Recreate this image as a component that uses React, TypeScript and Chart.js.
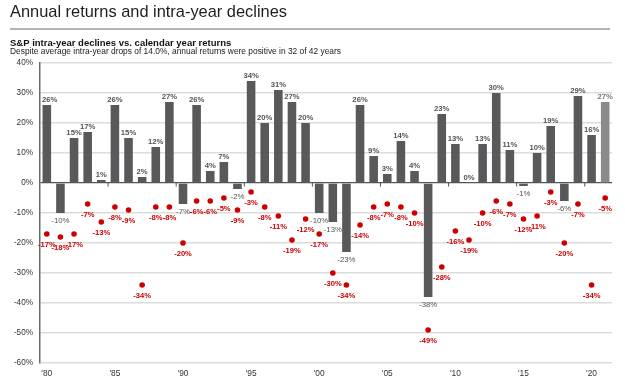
import { useEffect, useRef } from "react";
import { Chart, registerables } from "chart.js";

Chart.register(...registerables);

const years = [
  "1980", "1981", "1982", "1983", "1984", "1985", "1986", "1987", "1988", "1989",
  "1990", "1991", "1992", "1993", "1994", "1995", "1996", "1997", "1998", "1999",
  "2000", "2001", "2002", "2003", "2004", "2005", "2006", "2007", "2008", "2009",
  "2010", "2011", "2012", "2013", "2014", "2015", "2016", "2017", "2018", "2019",
  "2020", "2021",
];

const annualReturns = [
  26, -10, 15, 17, 1, 26, 15, 2, 12, 27,
  -7, 26, 4, 7, -2, 34, 20, 31, 27, 20,
  -10, -13, -23, 26, 9, 3, 14, 4, -38, 23,
  13, 0, 13, 30, 11, -1, 10, 19, -6, 29,
  16, 27,
];

const intraYearDeclines = [
  -17, -18, -17, -7, -13, -8, -9, -34, -8, -8,
  -20, -6, -6, -5, -9, -3, -8, -11, -19, -12,
  -17, -30, -34, -14, -8, -7, -8, -10, -49, -28,
  -16, -19, -10, -6, -7, -12, -11, -3, -20, -7,
  -34, -5,
];

const yMin = -60;
const yMax = 40;
const yStep = 10;

const titleText = "Annual returns and intra-year declines";
const subtitleText = "S&P intra-year declines vs. calendar year returns";
const noteText =
  "Despite average intra-year drops of 14.0%, annual returns were positive in 32 of 42 years";

const FONT = '"Liberation Sans", Arial, Helvetica, sans-serif';
const BAR = "#58595b";
const BAR_LAST = "#8a8a8a";
const RED = "#cc0000";

const overlay = {
  id: "overlay",
  beforeDraw(chart: any) {
    const ctx = chart.ctx;
    ctx.save();
    ctx.textAlign = "left";
    ctx.textBaseline = "alphabetic";
    ctx.fillStyle = "#1e1e1e";
    ctx.font = `16.4px ${FONT}`;
    ctx.fillText(titleText, 10, 16.8);
    ctx.strokeStyle = "#b4b4b4";
    ctx.lineWidth = 2;
    ctx.beginPath();
    ctx.moveTo(10, 29);
    ctx.lineTo(610, 29);
    ctx.stroke();
    ctx.fillStyle = "#111";
    ctx.font = `bold 9.5px ${FONT}`;
    ctx.fillText(subtitleText, 10, 45.5);
    ctx.fillStyle = "#222";
    ctx.font = `8.4px ${FONT}`;
    ctx.fillText(noteText, 10, 54);
    ctx.restore();
  },
  afterDatasetsDraw(chart: any) {
    const ctx = chart.ctx;
    const area = chart.chartArea;
    const xs = chart.scales.x;
    const ys = chart.scales.y;
    const y0 = ys.getPixelForValue(0);
    ctx.save();
    ctx.strokeStyle = "#555";
    ctx.lineWidth = 1;
    for (let i = 5; i < years.length; i += 5) {
      const px = (xs.getPixelForValue(i - 1) + xs.getPixelForValue(i)) / 2;
      ctx.beginPath();
      ctx.moveTo(px, y0);
      ctx.lineTo(px, y0 + 3.5);
      ctx.stroke();
    }
    const barMeta = chart.getDatasetMeta(0);
    ctx.textAlign = "center";
    barMeta.data.forEach((el: any, i: number) => {
      const v = annualReturns[i];
      const text = `${v}%`;
      const last = i === annualReturns.length - 1;
      if (v >= 0) {
        ctx.font = `bold 7.7px ${FONT}`;
        ctx.fillStyle = last ? "#7a7a7a" : "#555";
        ctx.textBaseline = "bottom";
        const w = ctx.measureText(text).width;
        const x = Math.max(el.x, area.left + w / 2 + 2);
        ctx.fillText(text, x, el.y - 1.5);
      } else {
        ctx.font = `7.8px ${FONT}`;
        ctx.fillStyle = "#555";
        ctx.textBaseline = "top";
        ctx.fillText(text, el.x, el.y + 4);
      }
    });
    const ptMeta = chart.getDatasetMeta(1);
    ctx.font = `bold 7.6px ${FONT}`;
    ctx.fillStyle = RED;
    ctx.textBaseline = "top";
    ptMeta.data.forEach((el: any, i: number) => {
      const text = `${intraYearDeclines[i]}%`;
      ctx.fillText(text, el.x, el.y + 7.5);
    });
    ctx.restore();
  },
};

export default function App() {
  const ref = useRef<HTMLCanvasElement>(null);

  useEffect(() => {
    document.body.style.margin = "0";
    const canvas = ref.current;
    if (!canvas) return;
    const chart = new Chart(canvas, {
      type: "bar",
      data: {
        labels: years,
        datasets: [
          {
            type: "bar",
            data: annualReturns,
            backgroundColor: annualReturns.map((_, i) =>
              i === annualReturns.length - 1 ? BAR_LAST : BAR
            ),
            borderWidth: 0,
            barPercentage: 0.63,
            categoryPercentage: 1,
            order: 2,
          } as any,
          {
            type: "line",
            data: intraYearDeclines,
            showLine: false,
            pointRadius: 2.8,
            pointBackgroundColor: RED,
            pointBorderWidth: 0,
            pointHoverRadius: 2.8,
            order: 1,
          } as any,
        ],
      },
      options: {
        responsive: false,
        animation: false,
        devicePixelRatio: 1,
        layout: { padding: { top: 63, right: 13, bottom: 0, left: 0 } },
        plugins: {
          legend: { display: false },
          tooltip: { enabled: false },
          title: { display: false },
        },
        scales: {
          x: {
            offset: true,
            grid: { display: false, drawTicks: false },
            border: { display: false },
            ticks: {
              autoSkip: false,
              maxRotation: 0,
              padding: 6,
              color: "#333",
              font: { family: FONT, size: 8.4 },
              callback: (_v: any, i: number) => {
                const y = Number(years[i]);
                return y % 5 === 0 ? `'${years[i].slice(2)}` : "";
              },
            },
            afterFit: (scale: any) => {
              scale.height = 19;
            },
          },
          y: {
            min: yMin,
            max: yMax,
            ticks: {
              stepSize: yStep,
              padding: 7,
              color: "#333",
              font: { family: FONT, size: 8.2 },
              callback: (v: any) => `${v}%`,
            },
            grid: {
              drawTicks: false,
              color: (c: any) => (c.tick && c.tick.value === 0 ? "#555" : "#dcdcdc"),
              lineWidth: (c: any) => (c.tick && c.tick.value === 0 ? 1.3 : 1.5),
            },
            border: { display: true, color: "#6a6a6a", width: 1.5 },
            afterFit: (scale: any) => {
              scale.width = 40;
            },
          },
        },
      },
      plugins: [overlay],
    });
    return () => chart.destroy();
  }, []);

  return (
    <div style={{ width: 625, height: 382, background: "#fff" }}>
      <canvas ref={ref} width={625} height={382} style={{ display: "block" }} />
    </div>
  );
}
